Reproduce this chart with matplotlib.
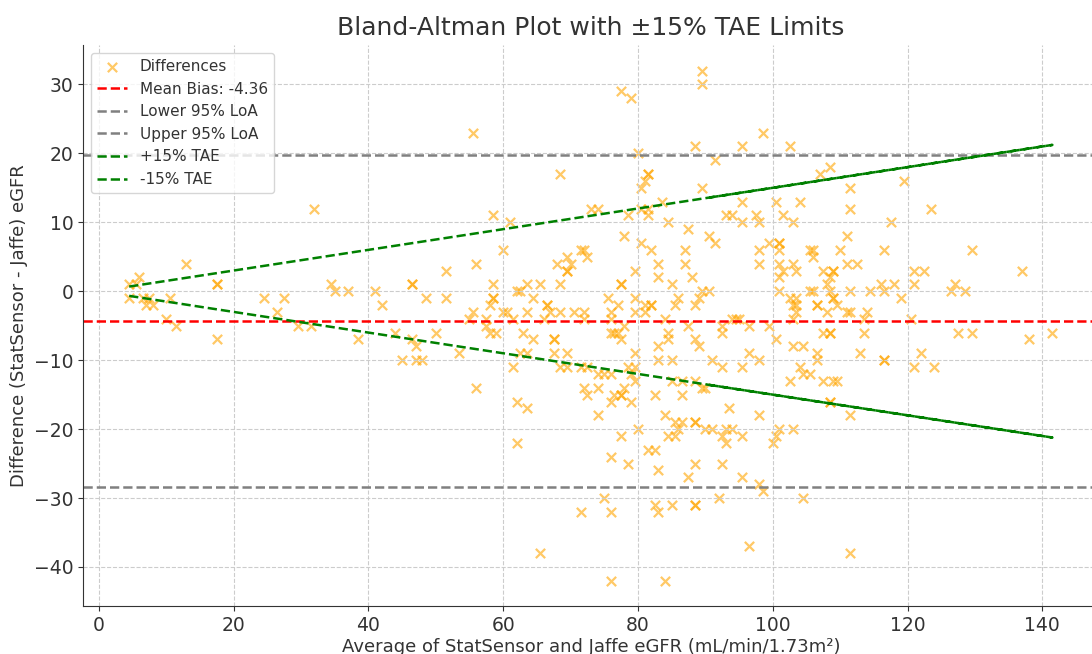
import numpy as np
import matplotlib.pyplot as plt

# (average eGFR, difference) pairs, grouped by average
pts_low = [(4.5, 1), (4.5, -1), (5.5, 1), (6, 2), (6.5, -1), (7, -2), (7.5, -1), (8, -2),
           (10, -4), (10.5, -1), (11.5, -5), (13, 4), (17.5, 1), (17.5, 1), (17.5, -7),
           (24.5, -1), (26.5, -3), (27.5, -1), (29.5, -5), (31.5, -5), (32, 12), (34.5, 1),
           (35, 0), (37, 0), (38.5, -7), (41, 0), (42, -2), (44, -6), (45, -10), (46.5, 1),
           (46.5, 1), (46.5, -7), (47, -8), (47, -10), (48, -10), (48.5, -1), (50, -6),
           (51.5, 3), (51.5, -1), (53.5, -9), (55, -4), (55.5, 23), (55.5, -3), (56, 4),
           (56, -14), (57.5, -4), (57.5, -5), (58, -2), (58, -6), (58.5, 11), (58.5, 1),
           (58.5, -1), (58.5, -1), (59, -6), (60, 6), (60, -3)]

pts_60s = [(61, 10), (65.5, -38), (62, 0), (67.5, -7), (61.5, -11), (68.5, 17), (63.5, 1),
           (66.5, -2), (62, -16), (69.5, 5), (60.5, -3), (67.5, -9), (63.5, -17), (68, 4),
           (64.5, -1), (67, -3), (62, -22), (69.5, 3), (61.5, -4), (66, -4), (62.5, 0),
           (69.5, 3), (63.5, -3), (67.5, -7), (63, -6), (70, 4), (64.5, -7), (68.5, 1),
           (62.5, -9), (66.5, -2), (63.5, -9), (68.5, -3), (65.5, 1), (68.5, -11),
           (69.5, -11), (69.5, -9), (70.5, -3)]

pts_70s = [(73, 12), (71.5, -32), (76, -3), (77.5, 29), (72, 6), (75.5, -1), (79, 28),
           (72.5, 5), (80, 20), (74, 12), (77, -2), (71.5, 6), (78, 8), (72, -3), (76, -4),
           (78.5, 11), (72, -4), (76, -6), (79.5, 3), (71.5, -11), (77, -6), (72.5, -11),
           (78, -5), (74, -12), (77.5, 1), (75, -12), (77.5, 1), (76, -12), (79.5, -1),
           (72, -14), (77.5, -7), (72.5, -15), (79.5, -3), (74, -14), (76.5, -6), (74, -18),
           (79.5, -9), (75, -30), (79.5, -11), (76, -16), (78.5, -11), (76.5, -15), (79, -12),
           (77.5, -15), (78, -14), (77.5, -15), (79, -16), (79.5, -13), (77.5, -21), (80, -20),
           (76, -24), (78.5, -25), (76, -32), (76, -42)]

pts_80s = [(80.5, 15), (83, -26), (81, 16), (85.5, -19), (81.5, 17), (88.5, 21), (81.5, 17),
           (84, -42), (80.5, 12), (89.5, 15), (81.5, 12), (82.5, -31), (81.5, 11), (89.5, 32),
           (83.5, 13), (83, -32), (84.5, 10), (89.5, 30), (80.5, 7), (87.5, 9), (82, 6),
           (87, 6), (83, 4), (87, 4), (83, 2), (88, 2), (85, 1), (81, -2), (86, -1), (82, -2),
           (85.5, -2), (82, -2), (89, -1), (81, -3), (89.5, 0), (84, -4), (88.5, -2),
           (84.5, -6), (87.5, -5), (84.5, -7), (88.5, -7), (83, -8), (89, -8), (83, -10),
           (85, -10), (86.5, -13), (82.5, -15), (88.5, -13), (84, -18), (86.5, -15),
           (81.5, -23), (86.5, -19), (82.5, -23), (88.5, -19), (84.5, -21), (88.5, -19),
           (85.5, -21), (88.5, -25), (86, -20), (87.5, -27), (85, -13), (88.5, -31),
           (85, -31), (88.5, -31), (89.5, -14), (90, -20)]

pts_90s = [(91.5, 19), (96.5, -37), (90.5, 0), (95.5, 21), (90.5, 8), (98.5, 23), (91.5, 7),
           (95.5, 13), (93, 11), (95.5, 10), (94, 11), (97.5, 11), (92.5, -5), (98, 10),
           (94, -4), (98, 6), (92.5, -6), (98, 4), (95, -4), (99.5, 7), (96.5, -5), (91, -10),
           (99.5, -5), (92.5, -11), (95.5, -11), (90, -14), (96.5, -9), (91, -20), (98, -10),
           (92.5, -21), (98, -18), (93, -22), (95.5, -21), (94, -20), (98, -28), (93.5, -17),
           (98.5, -29), (92.5, -25), (95.5, -27), (92, -30), (100, -22), (93, -20), (94.5, -4)]

pts_100s = [(100.5, 13), (105.5, 6), (101.5, 11), (109, -13), (103, 10), (106, 5), (102.5, 21),
            (106, 6), (101, 7), (105.5, 0), (101, 7), (106.5, -2), (101, 6), (106, 0),
            (101, 4), (106.5, -2), (101, 2), (108, -3), (103, 4), (106.5, -9), (103.5, 3),
            (101.5, 3), (106.5, -10), (104, 13), (105.5, -12), (101, 0), (102.5, -1),
            (107.5, -13), (103.5, -1), (109.5, -13), (103.5, -2), (108.5, -16), (103, -4),
            (108.5, -16), (103.5, -3), (107, 17), (103, -2), (108.5, 18), (100.5, -7),
            (110, 6), (100.5, -21), (107.5, 3), (101, -20), (109, 3), (103, -20), (109, 3),
            (102.5, -13), (108.5, 2), (103, -8), (108, 1), (104.5, -8), (108.5, 0), (104, -11),
            (109, -1), (104.5, -12), (109, -1), (104.5, -30), (107.5, -6), (108.5, -6),
            (108.5, -6), (109.5, -2)]

pts_110s = [(111, 8), (116.5, 6), (111, 4), (117.5, 10), (111.5, 15), (119.5, 16), (111.5, 12),
            (112.5, 4), (111.5, 0), (111.5, -3), (111, -3), (113.5, -4), (114, -3), (114.5, 0),
            (116, 1), (116.5, 0), (118, 1), (119, -1), (113.5, -6), (113, -9), (116.5, -10),
            (116.5, -10), (111.5, -18), (111.5, -38)]

pts_120s = [(121, 3), (122.5, 3), (121, 1), (120.5, -4), (122, -9), (121, -11), (124, -11),
            (123.5, 12), (126.5, 0), (127, 1), (128.5, 0), (127.5, -6), (129.5, -6),
            (129.5, 6), (137, 3), (138, -7), (141.5, -6)]

mean_bias = -4.36
loa_lower = -28.42
loa_upper = 19.70
tae = 0.15

# measurement order: low range first, then the busy range mixed together
high_bins = [pts_60s, pts_70s, pts_80s, pts_90s, pts_100s, pts_110s, pts_120s]
pts = list(pts_low)
for i in range(max(len(b) for b in high_bins)):
    for b in high_bins:
        if i < len(b):
            pts.append(b[i])
avg = np.array([p[0] for p in pts], dtype=float)
diff = np.array([p[1] for p in pts], dtype=float)

plt.rcParams['text.color'] = '#333333'
plt.rcParams['axes.labelcolor'] = '#333333'

fig = plt.figure(figsize=(10.92, 6.54), dpi=100)
ax = fig.add_axes([0.076, 0.073, 0.93, 0.858])

ax.scatter(avg, diff, marker='x', color='orange', alpha=0.6, s=45, linewidths=1.6,
           label='Differences')
ax.axhline(mean_bias, color='red', linestyle='--', linewidth=1.8,
           label=f'Mean Bias: {mean_bias:.2f}')
ax.axhline(loa_lower, color='gray', linestyle='--', linewidth=1.8, label='Lower 95% LoA')
ax.axhline(loa_upper, color='gray', linestyle='--', linewidth=1.8, label='Upper 95% LoA')
ax.plot(avg, tae * avg, 'g--', linewidth=1.8, label='+15% TAE')
ax.plot(avg, -tae * avg, 'g--', linewidth=1.8, label='-15% TAE')

ax.set_title('Bland-Altman Plot with \u00b115% TAE Limits', fontsize=18, pad=7)
ax.set_xlabel('Average of StatSensor and Jaffe eGFR (mL/min/1.73m\u00b2)', fontsize=13,
              labelpad=2)
ax.set_ylabel('Difference (StatSensor - Jaffe) eGFR', fontsize=13)
ax.tick_params(labelsize=13.5, colors='#333333')
ax.grid(True, linestyle='--', color='#cccccc', linewidth=0.8)
ax.spines['top'].set_visible(False)
ax.spines['right'].set_visible(False)
for s in ['left', 'bottom']:
    ax.spines[s].set_color('#333333')
ax.legend(loc='upper left', fontsize=11)

fig.savefig('out.png')
